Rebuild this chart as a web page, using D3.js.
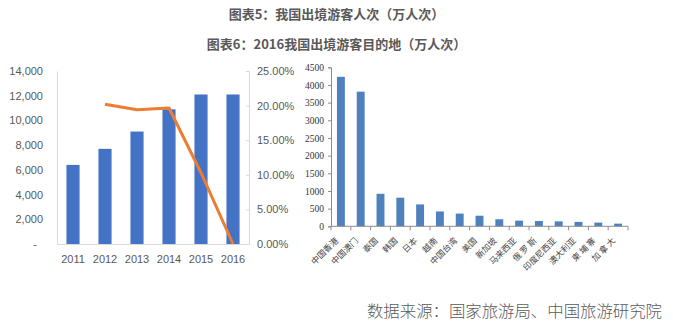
<!DOCTYPE html>
<html>
<head>
<meta charset="utf-8">
<script src="https://cdn.jsdelivr.net/npm/d3@7/dist/d3.min.js"></script>
<style>
  html, body { margin: 0; padding: 0; background: #fff; }
  svg { display: block; }
</style>
</head>
<body>
<svg id="chart" width="673" height="327"></svg>
<script>
// Outbound trips per year (10k trips) and year-on-year growth
const years = ["2011", "2012", "2013", "2014", "2015", "2016"];
const trips = [6400, 7700, 9100, 10900, 12100, 12100];
const growth = [null, 0.202, 0.194, 0.1965, 0.103, 0.0];
const tripTicks = [0, 2000, 4000, 6000, 8000, 10000, 12000, 14000];
const growthTicks = [0, 0.05, 0.10, 0.15, 0.20, 0.25];

// 2016 destinations (10k trips)
const destinations = ["中国香港", "中国澳门", "泰国", "韩国", "日本", "越南", "中国台湾", "美国",
  "新加坡", "马来西亚", "俄 罗 斯", "印度尼西亚", "澳大利亚", "柬 埔 寨", "加 拿 大"];
const destValues = [4230, 3810, 920, 810, 620, 420, 360, 300, 200, 160, 150, 140, 125, 105, 75];
const destTicks = [0, 500, 1000, 1500, 2000, 2500, 3000, 3500, 4000, 4500];

const titles = ["图表5：我国出境游客人次（万人次）", "图表6：2016我国出境游客目的地（万人次）"];
const sourceNote = "数据来源：国家旅游局、中国旅游研究院";

const svg = d3.select("#chart");
const cjk = "'Noto Sans CJK SC', 'Noto Sans', sans-serif";
const latin = "'Liberation Sans', Arial, sans-serif";
const serif = "'Liberation Serif', 'Times New Roman', serif";

// Titles
svg.selectAll("text.title").data(titles).join("text")
  .attr("class", "title")
  .attr("x", 336.5)
  .attr("y", (d, i) => 19 + i * 30)
  .attr("text-anchor", "middle")
  .attr("font-family", cjk)
  .attr("font-weight", "bold")
  .attr("font-size", 13)
  .attr("fill", "#595959")
  .text(d => d);

// ---------- Left: bars + growth line ----------
const L = { left: 57, right: 249, top: 71, bottom: 244 };
const xL = d3.scaleBand().domain(years).range([L.left, L.right])
  .paddingInner(0.59).paddingOuter(0.295);
const yL = d3.scaleLinear().domain([0, 14000]).range([L.bottom, L.top]);
const yR = d3.scaleLinear().domain([0, 0.25]).range([L.bottom, L.top]);

const left = svg.append("g");

left.selectAll("rect").data(years).join("rect")
  .attr("x", d => xL(d))
  .attr("width", xL.bandwidth())
  .attr("y", (d, i) => yL(trips[i]))
  .attr("height", (d, i) => yL(0) - yL(trips[i]))
  .attr("fill", "#4472C4");

// Left value axis
const axL = left.append("g").attr("transform", `translate(${L.left},0)`)
  .call(d3.axisLeft(yL).tickValues(tripTicks).tickSize(0).tickPadding(14)
    .tickFormat(d => d === 0 ? "-" : d3.format(",")(d)));
axL.select(".domain").attr("stroke", "#d9d9d9");
axL.selectAll("text").attr("font-family", latin).attr("font-size", 11).attr("fill", "#595959");
axL.selectAll("text").filter(d => d === 0).attr("dx", -6);

// Right percentage axis
const axR = left.append("g").attr("transform", `translate(${L.right},0)`)
  .call(d3.axisRight(yR).tickValues(growthTicks).tickSize(-3).tickPadding(8)
    .tickFormat(d3.format(".2%")));
axR.select(".domain").attr("stroke", "#d9d9d9");
axR.selectAll(".tick line").attr("stroke", "#d9d9d9");
axR.selectAll("text").attr("font-family", latin).attr("font-size", 11).attr("fill", "#595959");

// Category axis
const axB = left.append("g").attr("transform", `translate(0,${L.bottom})`)
  .call(d3.axisBottom(xL).tickSize(0).tickPadding(11));
axB.select(".domain").attr("stroke", "#d9d9d9");
axB.selectAll("text").attr("font-family", latin).attr("font-size", 11).attr("fill", "#595959");

// Growth line
const line = d3.line()
  .defined(d => d.v !== null)
  .x(d => xL(d.year) + xL.bandwidth() / 2)
  .y(d => yR(d.v));
left.append("path")
  .datum(years.map((y, i) => ({ year: y, v: growth[i] })))
  .attr("d", line)
  .attr("fill", "none")
  .attr("stroke", "#ED7D31")
  .attr("stroke-width", 3)
  .attr("stroke-linejoin", "round");

// ---------- Right: destination bars ----------
const R = { left: 331, right: 628, top: 67.3, bottom: 226.3 };
const xD = d3.scaleBand().domain(destinations).range([R.left, R.right])
  .paddingInner(0.6).paddingOuter(0.3);
const yD = d3.scaleLinear().domain([0, 4500]).range([R.bottom, R.top]);

const right = svg.append("g");

right.selectAll("rect").data(destinations).join("rect")
  .attr("x", d => xD(d))
  .attr("width", xD.bandwidth())
  .attr("y", (d, i) => yD(destValues[i]))
  .attr("height", (d, i) => yD(0) - yD(destValues[i]))
  .attr("fill", "#4F81BD");

const axD = right.append("g").attr("transform", `translate(${R.left},0)`)
  .call(d3.axisLeft(yD).tickValues(destTicks).tickSize(3).tickPadding(4).tickFormat(d3.format("d")));
axD.select(".domain").attr("stroke", "#8c8c8c");
axD.selectAll(".tick line").attr("stroke", "#8c8c8c");
axD.selectAll("text").attr("font-family", serif).attr("font-size", 9.5).attr("fill", "#333");

// Category axis with ticks on band boundaries
const axDB = right.append("g").attr("transform", `translate(0,${R.bottom})`);
axDB.append("line")
  .attr("x1", R.left).attr("x2", R.right)
  .attr("stroke", "#8c8c8c");
const step = xD.step();
axDB.selectAll("line.tk").data(d3.range(destinations.length + 1)).join("line")
  .attr("class", "tk")
  .attr("x1", i => R.left + i * step).attr("x2", i => R.left + i * step)
  .attr("y1", 0).attr("y2", 4)
  .attr("stroke", "#8c8c8c");
axDB.selectAll("text").data(destinations).join("text")
  .attr("transform", d => `translate(${xD(d) + xD.bandwidth() / 2 - 2},${15}) rotate(-45)`)
  .attr("text-anchor", "end")
  .attr("font-family", cjk)
  .attr("font-size", 8.5)
  .attr("fill", "#444")
  .text(d => d);

// Source note
svg.append("text")
  .attr("x", 662)
  .attr("y", 317)
  .attr("text-anchor", "end")
  .attr("font-family", cjk)
  .attr("font-weight", 300)
  .attr("font-size", 16.4)
  .attr("fill", "#595959")
  .text(sourceNote);
</script>
</body>
</html>
